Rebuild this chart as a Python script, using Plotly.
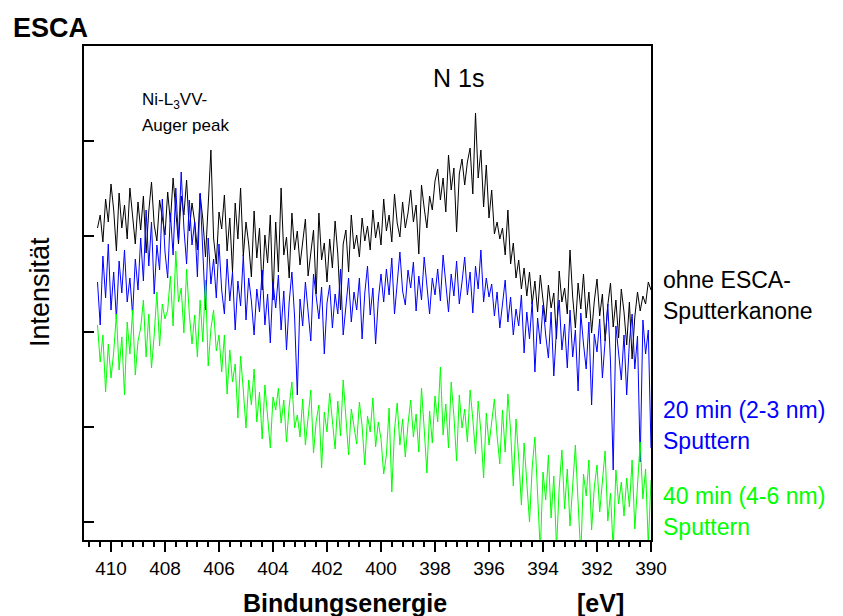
import plotly.graph_objects as go

# Binding-energy grid of the scans (eV), 0.1 eV steps from 410.5 down to 390.0
E_START, E_STEP, N_PTS = 410.5, 0.1, 206
energy = [round(E_START - E_STEP * i, 1) for i in range(N_PTS)]

# Intensity (arb. units) without sputtering
ohne = [312, 325, 298, 341, 318, 356,
        330, 289, 347, 312, 335, 301, 352, 326, 296, 338,
        310, 344, 287, 329, 358, 315, 299, 340, 321, 305,
        348, 318, 362, 331, 296, 344, 325, 360, 309, 337,
        318, 290, 346, 321, 283, 335, 390, 302, 276, 328,
        311, 345, 289, 322, 268, 337, 301, 352, 284, 318,
        296, 263, 329, 282, 312, 250, 305, 277, 325, 240,
        318, 268, 352, 285, 303, 262, 327, 290, 309, 275,
        299, 321, 264, 288, 310, 246, 327, 280, 297, 258,
        301, 272, 319, 286, 230, 296, 310, 268, 325, 291,
        305, 283, 322, 299, 314, 290, 330, 302, 318, 295,
        341, 309, 325, 298, 346, 317, 303, 338, 312, 327,
        350, 318, 335, 286, 355, 332, 312, 344, 330, 359,
        371, 340, 362, 328, 385, 350, 372, 308, 366, 381,
        355, 378, 392, 346, 427, 362, 390, 333, 375, 322,
        350, 306, 318, 301, 312, 285, 330, 276, 297, 262,
        280, 251, 272, 244, 268, 236, 259, 228, 265, 240,
        218, 255, 232, 247, 201, 269, 238, 252, 226, 290,
        243, 212, 257, 231, 266, 222, 248, 207, 239, 261,
        224, 246, 199, 235, 257, 213, 240, 202, 251, 228,
        195, 238, 181, 223, 248, 229, 244, 236, 258, 250]

# Intensity after 20 min sputtering (2-3 nm)
sput20 = [258, 215, 284, 242, 296, 230,
          268, 221, 279, 247, 290, 238, 262, 225, 281, 250,
          302, 259, 330, 274, 318, 246, 295, 270, 341, 288,
          262, 327, 285, 352, 300, 368, 312, 276, 340, 295,
          318, 263, 347, 284, 230, 302, 256, 281, 242, 296,
          250, 226, 281, 239, 268, 210, 259, 234, 285, 220,
          262, 239, 205, 251, 228, 270, 215, 246, 197, 258,
          232, 265, 210, 249, 190, 238, 268, 223, 145, 241,
          214, 258, 231, 199, 266, 240, 221, 253, 186, 237,
          255, 212, 246, 226, 271, 205, 236, 262, 218, 248,
          230, 262, 201, 247, 274, 225, 252, 196, 240, 266,
          238, 271, 245, 282, 226, 260, 288, 249, 235, 270,
          252, 278, 229, 264, 240, 283, 250, 226, 262, 245,
          271, 239, 285, 257, 228, 266, 244, 279, 236, 258,
          283, 245, 268, 227, 274, 251, 290, 238, 262, 243,
          256, 224, 248, 212, 237, 260, 218, 243, 205, 231,
          214, 245, 187, 228, 201, 239, 168, 222, 196, 235,
          205, 182, 228, 164, 211, 240, 190, 216, 172, 230,
          183, 210, 149, 227, 196, 171, 218, 135, 206, 188,
          221, 162, 199, 236, 178, 70, 214, 190, 160, 205,
          145, 198, 226, 171, 204, 78, 220, 186, 210, 92]

# Intensity after 40 min sputtering (4-6 nm)
sput40 = [215, 178, 205, 148, 196, 162,
          188, 226, 170, 203, 145, 218, 186, 230, 165, 199,
          212, 240, 183, 226, 172, 205, 248, 194, 236, 221,
          230, 264, 214, 289, 238, 252, 207, 271, 226, 196,
          225, 183, 240, 198, 260, 174, 211, 230, 189, 205,
          168, 205, 146, 190, 158, 176, 122, 184, 150, 112,
          160, 135, 171, 118, 148, 101, 155, 127, 92, 143,
          130, 152, 117, 140, 98, 134, 158, 112, 125, 103,
          141, 95, 126, 150, 87, 119, 135, 72, 128, 108,
          147, 116, 91, 139, 104, 160, 122, 85, 131, 112,
          96, 138, 114, 75, 124, 108, 142, 93, 118, 101,
          66, 85, 132, 48, 110, 137, 95, 121, 83, 116,
          140, 103, 126, 88, 152, 111, 67, 129, 97, 144,
          118, 173, 105, 136, 92, 158, 124, 79, 145, 112,
          131, 98, 150, 121, 86, 139, 108, 62, 127, 95,
          118, 141, 104, 76, 130, 88, 146, 109, 54, 121,
          82, 35, 97, 60, 18, 73, 103, 46, -12, 68,
          40, 85, 22, 64, -8, 52, 90, 31, 71, 14,
          58, 95, 37, -15, 66, 44, 80, 10, 53, 75,
          28, 61, 89, 19, 47, -10, 70, 36, 58, 24,
          62, 33, 80, 11, 55, 98, 41, 71, -5, 60]

x_major_ticks = [410, 408, 406, 404, 402, 400, 398, 396, 394, 392, 390]
y_ticks = [18, 113, 208, 304, 399]

FONT = "Liberation Sans, Arial, sans-serif"
W, H = 843, 616
L, R, T, B = 84, 651, 46, 540  # plot area in pixels


def px(xp):
    return (xp - L) / (R - L)


def py(yp):
    return (B - yp) / (B - T)


fig = go.Figure()
for name, vals, col in [("ohne ESCA-Sputterkanone", ohne, "#000000"),
                        ("20 min (2-3 nm) Sputtern", sput20, "#0000FF"),
                        ("40 min (4-6 nm) Sputtern", sput40, "#00FF00")]:
    fig.add_trace(go.Scatter(x=energy, y=vals, mode="lines", name=name,
                             line=dict(color=col, width=1), showlegend=False))

fig.update_layout(
    width=W, height=H,
    margin=dict(l=L, r=W - R, t=T, b=H - B, pad=0),
    paper_bgcolor="white", plot_bgcolor="white",
    font=dict(family=FONT, color="black"),
)

fig.update_xaxes(
    range=[411.0, 390.0], tickvals=x_major_ticks,
    ticks="outside", ticklen=10, tickwidth=2, tickcolor="black",
    tickfont=dict(size=19, family=FONT, color="black"),
    minor=dict(dtick=0.4, tick0=390, ticks="outside", ticklen=5,
               tickwidth=2, tickcolor="black", showgrid=False),
    showline=True, linecolor="black", linewidth=2, mirror=True,
    showgrid=False, zeroline=False,
)
fig.update_yaxes(
    range=[0, 494], tickvals=y_ticks, showticklabels=False,
    ticks="inside", ticklen=10, tickwidth=2, tickcolor="black",
    showline=True, linecolor="black", linewidth=2, mirror=True,
    showgrid=False, zeroline=False,
)


def label(text, xp, yp, size, color="black", bold=False, xanchor="left", angle=0):
    if bold:
        text = "<b>" + text + "</b>"
    fig.add_annotation(text=text, x=px(xp), y=py(yp), xref="paper", yref="paper",
                       xanchor=xanchor, yanchor="middle", showarrow=False,
                       textangle=angle,
                       font=dict(size=size, family=FONT, color=color))


label("ESCA", 11, 28, 27, bold=True)
label("N 1s", 458, 78, 25, xanchor="center")
label("Ni-L<sub>3</sub>VV-", 140, 101, 17)
label("Auger peak", 140, 126, 17)
label("Intensität", 40, 292, 27, xanchor="center", angle=-90)
label("Bindungsenergie", 345, 603, 25, bold=True, xanchor="center")
label("[eV]", 600, 603, 25, bold=True, xanchor="center")

label("ohne ESCA-", 661, 280, 23)
label("Sputterkanone", 661, 311, 23)
label("20 min (2-3 nm)", 661, 410, 23, color="#0000FF")
label("Sputtern", 661, 441, 23, color="#0000FF")
label("40 min (4-6 nm)", 661, 496, 23, color="#00FF00")
label("Sputtern", 661, 527, 23, color="#00FF00")

fig.write_html("out.html")
